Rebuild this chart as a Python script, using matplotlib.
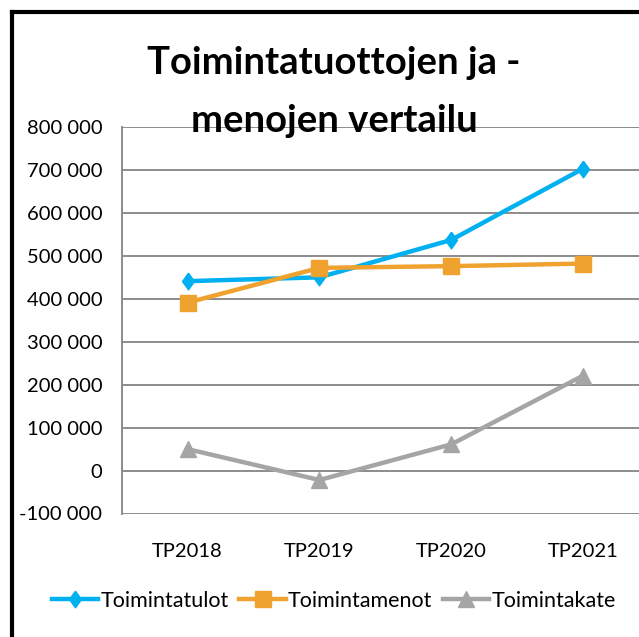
import matplotlib
matplotlib.use("Agg")
import matplotlib.pyplot as plt
from matplotlib.lines import Line2D
from matplotlib.ticker import FuncFormatter

# data
years = ['TP2018', 'TP2019', 'TP2020', 'TP2021']
tulot = [441000, 450000, 537000, 703000]
menot = [391000, 472000, 476000, 482000]
kate = [50000, -22000, 61000, 221000]
labels = ['Toimintatulot', 'Toimintamenot', 'Toimintakate']
title = 'Toimintatuottojen ja -\nmenojen vertailu'

plt.rcParams['font.family'] = ['Lato', 'DejaVu Sans']

W, H = 639, 637
fig = plt.figure(figsize=(W / 100, H / 100), dpi=100)
fig.patch.set_facecolor('white')

# plot area runs past the right edge of the picture (it is cropped)
left, right, top, bottom = 121.6, 649, 127, 513.5
ax = fig.add_axes([left / W, 1 - bottom / H, (right - left) / W, (bottom - top) / H])

diamond = [(0, 1), (0.72, 0), (0, -1), (-0.72, 0), (0, 1)]
x = range(len(years))
ax.plot(x, tulot, color='#00B0F0', lw=3.2, marker=diamond, ms=12, label=labels[0])
ax.plot(x, menot, color='#F0A22E', lw=3.2, marker='s', ms=11, label=labels[1])
ax.plot(x, kate, color='#A5A5A5', lw=3.2, marker='^', ms=11, label=labels[2])

ax.set_xlim(-0.5, 3.5)
ax.set_ylim(-100000, 800000)
ax.set_yticks(range(-100000, 800001, 100000))
ax.set_xticks(list(x))
ax.set_xticklabels(years)

def fmt(v, pos):
    s = '{:,.0f}'.format(abs(v)).replace(',', ' ')
    return ('-' if v < 0 else '') + s

ax.yaxis.set_major_formatter(FuncFormatter(fmt))
ax.grid(axis='y', color='#8C8C8C', lw=1.4)
ax.set_axisbelow(True)
for s in ['top', 'right', 'bottom']:
    ax.spines[s].set_visible(False)
ax.spines['left'].set_color('#8C8C8C')
ax.spines['left'].set_linewidth(1.4)
ax.tick_params(axis='both', length=0, labelsize=14.5, colors='black')
ax.tick_params(axis='y', pad=14)
ax.tick_params(axis='x', pad=21)

fig.text(334 / W, 1 - 92 / H, title, ha='center', va='center', fontsize=27.5,
         fontweight='bold', linespacing=1.85)

# black chart border (left and top sides visible)
fig.add_artist(Line2D([12 / W, 12 / W], [0, 1 - 12 / H], transform=fig.transFigure,
                      color='black', lw=3))
fig.add_artist(Line2D([12 / W, 1], [1 - 12 / H, 1 - 12 / H], transform=fig.transFigure,
                      color='black', lw=3))

fig.legend(loc='center left', bbox_to_anchor=(52 / W, 1 - 601 / H), ncol=3,
           frameon=False, fontsize=15.5, handlelength=2.15, handletextpad=0.1,
           columnspacing=0.5, borderpad=0, borderaxespad=0)

fig.savefig('out.png', dpi=100)
